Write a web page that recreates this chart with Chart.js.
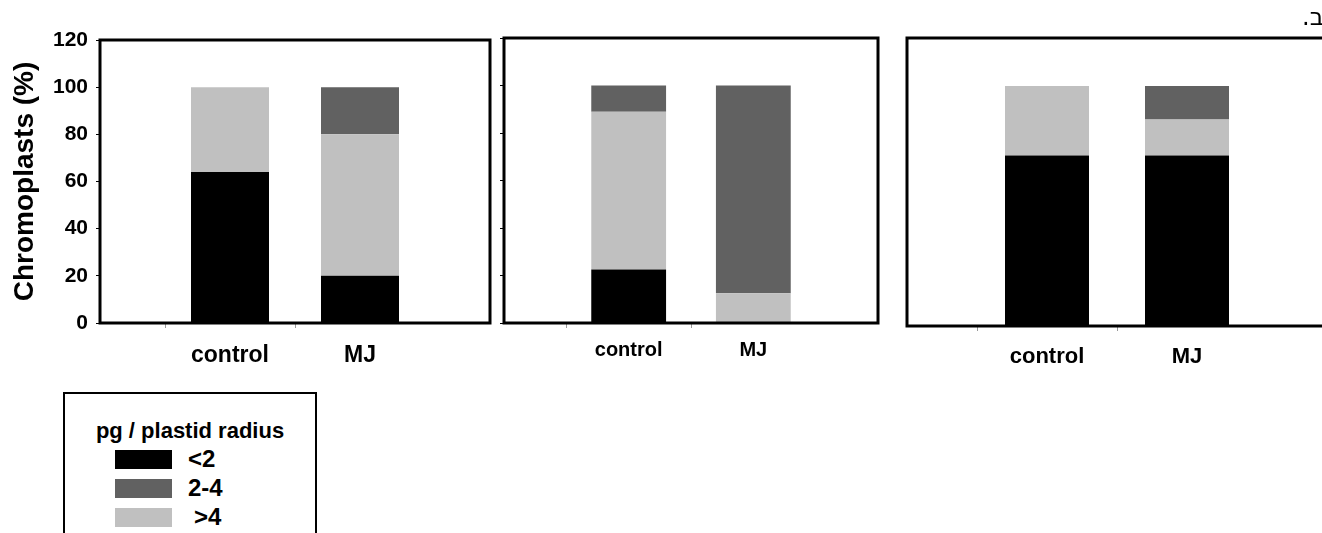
<!DOCTYPE html>
<html lang="en">
  <head>
    <meta charset="UTF-8" />
    <script src="https://cdn.jsdelivr.net/npm/chart.js@4.4.0/dist/chart.umd.min.js"></script>
    <title>Chromoplasts</title>
    <style>
      html, body { margin: 0; padding: 0; background: #fff; overflow: hidden; }
      body { width: 1322px; height: 533px; position: relative; font-family: "Liberation Sans", Arial, sans-serif; }
      .panel { position: absolute; top: 0; height: 380px; }
      .panel canvas { display: block; }
      #p1 { left: 0; width: 495px; }
      #p2 { left: 495px; width: 390px; }
      #p3 { left: 900px; width: 430px; }
      #letter { position: absolute; top: 3px; left: 1302px; font-size: 24px; direction: rtl; font-family: "DejaVu Sans", "Liberation Sans", sans-serif; white-space: nowrap; }
      #legend { position: absolute; left: 63px; top: 392px; width: 250px; height: 160px; border: 2.5px solid #000; }
      #legend h4 { margin: 0; position: absolute; left: 0; width: 100%; top: 24px; text-align: center; font-size: 22px; font-weight: bold; }
      .item { position: absolute; left: 50px; height: 20px; }
      .sw { position: absolute; left: 0; top: 0; width: 57px; height: 19px; }
      .lab { position: absolute; left: 73px; top: -5px; font-size: 24px; font-weight: bold; white-space: nowrap; }
    </style>
  </head>
  <body>
    <div class="panel" id="p1"><canvas id="c1" width="495" height="380"></canvas></div>
    <div class="panel" id="p2"><canvas id="c2" width="390" height="380"></canvas></div>
    <div class="panel" id="p3"><canvas id="c3" width="430" height="380"></canvas></div>
    <div id="letter">ב.</div>
    <div id="legend">
      <h4 id="legend-title"></h4>
      <div id="legend-items"></div>
    </div>

    <script>
      // categories (empty slots at the ends put the bars at 1/3 and 2/3 of the frame)
      const categories = ['', 'control', 'MJ', ''];
      const seriesNames = ['<2', '>4', '2-4'];
      const legendOrder = ['<2', '2-4', '>4'];
      const yTicks = [0, 20, 40, 60, 80, 100, 120];

      // panel 1
      const p1Small = [null, 64, 20, null];
      const p1Large = [null, 36, 60, null];
      const p1Mid = [null, 0, 20, null];
      // panel 2
      const p2Small = [null, 22.5, 0, null];
      const p2Large = [null, 66.5, 12.5, null];
      const p2Mid = [null, 11, 87.5, null];
      // panel 3
      const p3Small = [null, 71, 71, null];
      const p3Large = [null, 29, 15, null];
      const p3Mid = [null, 0, 14, null];

      const colors = { '<2': '#000000', '2-4': '#616161', '>4': '#c0c0c0' };

      Chart.defaults.font.family = '"Liberation Sans", Arial, sans-serif';
      Chart.defaults.color = '#000';

      const framePlugin = {
        id: 'frame',
        afterDraw(chart) {
          const a = chart.chartArea;
          const ctx = chart.ctx;
          ctx.save();
          ctx.strokeStyle = '#000';
          ctx.lineWidth = 3;
          ctx.strokeRect(a.left, a.top, a.right - a.left, a.bottom - a.top);
          ctx.restore();
        }
      };

      function makeChart(id, small, large, mid, o) {
        return new Chart(document.getElementById(id), {
          type: 'bar',
          data: {
            labels: categories,
            datasets: [
              { label: seriesNames[0], data: small, backgroundColor: colors['<2'] },
              { label: seriesNames[1], data: large, backgroundColor: colors['>4'] },
              { label: seriesNames[2], data: mid, backgroundColor: colors['2-4'] }
            ]
          },
          options: {
            responsive: false,
            animation: false,
            barPercentage: 0.6,
            categoryPercentage: 1,
            layout: { padding: o.padding },
            plugins: { legend: { display: false }, tooltip: { enabled: false } },
            scales: {
              x: {
                stacked: true,
                offset: false,
                border: { display: false },
                grid: {
                  drawOnChartArea: false,
                  tickLength: 5,
                  tickColor: ctx => (categories[ctx.index] ? '#999' : 'rgba(0,0,0,0)')
                },
                ticks: {
                  maxRotation: 0,
                  padding: o.xPad,
                  font: { size: o.xFont, weight: 'bold' }
                },
                afterFit: s => {
                  s.height = o.xHeight;
                  s.paddingLeft = 0;
                  s.paddingRight = 0;
                }
              },
              y: {
                stacked: true,
                min: 0,
                max: 120,
                display: o.yDisplay,
                border: { display: false },
                afterBuildTicks: s => { s.ticks = yTicks.map(v => ({ value: v })); },
                grid: { drawOnChartArea: false, tickLength: 4, tickColor: '#000' },
                ticks: {
                  display: o.yLabels,
                  padding: 8,
                  font: { size: 21, weight: 'bold' }
                },
                title: {
                  display: o.yLabels,
                  text: 'Chromoplasts (%)',
                  font: { size: 28, weight: 'bold' },
                  padding: { top: 8, bottom: 0 }
                },
                afterFit: s => { s.width = o.yWidth; }
              }
            }
          },
          plugins: [framePlugin]
        });
      }

      makeChart('c1', p1Small, p1Large, p1Mid, {
        padding: { top: 40, right: 5, left: 0, bottom: 0 },
        xHeight: 57, xPad: 14, xFont: 23, yDisplay: true, yLabels: true, yWidth: 100
      });
      makeChart('c2', p2Small, p2Large, p2Mid, {
        padding: { top: 38, right: 7, left: 0, bottom: 0 },
        xHeight: 57, xPad: 10, xFont: 20, yDisplay: true, yLabels: false, yWidth: 9
      });
      makeChart('c3', p3Small, p3Large, p3Mid, {
        padding: { top: 38, right: 3, left: 7, bottom: 0 },
        xHeight: 54, xPad: 13, xFont: 22, yDisplay: false, yLabels: false, yWidth: 0
      });

      // legend built from the series names and colours
      document.getElementById('legend-title').textContent = 'pg / plastid radius';
      const items = document.getElementById('legend-items');
      legendOrder.forEach((name, i) => {
        const d = document.createElement('div');
        d.className = 'item';
        d.style.top = (56 + i * 29) + 'px';
        d.innerHTML = '<div class="sw"></div><div class="lab"></div>';
        d.querySelector('.sw').style.background = colors[name];
        d.querySelector('.lab').textContent = name;
        if (name === '>4') d.querySelector('.lab').style.left = '79px';
        items.appendChild(d);
      });
    </script>
  </body>
</html>
